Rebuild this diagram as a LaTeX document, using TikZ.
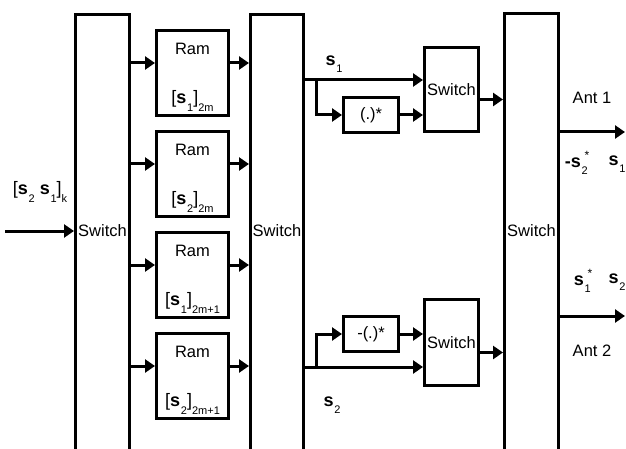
\documentclass[tikz,border=0pt]{standalone}
\usepackage{fontspec}
\setmainfont{Liberation Sans}
\usetikzlibrary{arrows.meta}
\tikzset{
  blk/.style={draw, rectangle, line width=3pt, inner sep=0pt, anchor=north west},
  arr/.style={line width=3pt, -{Triangle[length=10pt,width=13pt]}},
  lbl/.style={inner sep=0pt, font=\fontsize{16.5}{18}\selectfont},
  sym/.style={inner sep=0pt, font=\fontsize{18}{20}\selectfont},
}
\newcommand{\ix}[1]{\raisebox{-0.75ex}{\fontsize{11}{12}\selectfont #1}}
\newcommand{\bs}[1]{\textbf{s}\kern0.8pt\ix{#1}}
\newcommand{\bsc}[1]{\textbf{s}\kern0.8pt\rlap{\ix{#1}}\hspace{3pt}\raisebox{0.8ex}{\fontsize{12}{12}\selectfont *}}
\begin{document}
\begin{tikzpicture}[x=1pt,y=-1pt]
  \useasboundingbox (0,0) rectangle (626,449);
  % tall switches
  \node[blk, minimum width=54pt, minimum height=445pt] (sw1) at (74,13) {};
  \node[blk, minimum width=53pt, minimum height=445pt] (sw2) at (249,13) {};
  \node[blk, minimum width=54pt, minimum height=445pt] (sw4) at (503,12) {};
  \coordinate (lvl) at (0,231);
  \node[lbl] at (sw1 |- lvl) {Switch};
  \node[lbl] at (sw2 |- lvl) {Switch};
  \node[lbl] at (sw4 |- lvl) {Switch};
  % input
  \node[sym] (inlab) at (40,192) {[\bs{2} \bs{1}]\ix{k}};
  \coordinate (src) at (5,231);
  \draw[arr] (src) -- (src -| sw1.west);
  % rams
  \foreach \i/\t in {1/29,2/130,3/231,4/332}{
    \node[blk, minimum width=72pt, minimum height=85pt] (ram\i) at (155,\t) {};
    \node[lbl] at ([yshift=-20pt]ram\i.north) {Ram};
    \coordinate (p\i) at ([yshift=-34pt]ram\i.north west);
    \draw[arr] (sw1.east |- p\i) -- (p\i);
    \draw[arr] (p\i -| ram\i.east) -- (p\i -| sw2.west);
  }
  \node[sym] at ([yshift=-72pt]ram1.north) {[\bs{1}]\ix{2m}};
  \node[sym] at ([yshift=-72pt]ram2.north) {[\bs{2}]\ix{2m}};
  \node[sym] at ([yshift=-72pt]ram3.north) {[\bs{1}]\ix{2m+1}};
  \node[sym] at ([yshift=-72pt]ram4.north) {[\bs{2}]\ix{2m+1}};
  % conjugates and small switches
  \node[blk, lbl, minimum width=55pt, minimum height=35pt] (cj1) at (342,96) {(.)*};
  \node[blk, lbl, minimum width=55pt, minimum height=35pt] (cj2) at (342,315) {-(.)*};
  \node[blk, lbl, minimum width=54pt, minimum height=84pt] (sw3a) at (423,46) {Switch};
  \node[blk, lbl, minimum width=54pt, minimum height=86pt] (sw3b) at (423,298) {Switch};
  \coordinate (up) at (316,80);
  \coordinate (dn) at (316,367);
  \draw[arr] (sw2.east |- up) -- (sw3a.west |- up);
  \draw[arr] (up) |- (cj1.west);
  \draw[arr] (cj1.east) -- (sw3a.west |- cj1.east);
  \draw[arr] (sw2.east |- dn) -- (sw3b.west |- dn);
  \draw[arr] (dn) |- (cj2.west);
  \draw[arr] (cj2.east) -- (sw3b.west |- cj2.east);
  \coordinate (o1) at ([yshift=-10pt]sw3a.east);
  \coordinate (o2) at ([yshift=-10pt]sw3b.east);
  \draw[arr] (o1) -- (o1 -| sw4.west);
  \draw[arr] (o2) -- (o2 -| sw4.west);
  % antennas
  \coordinate (a1) at (625,132);
  \coordinate (a2) at (625,316);
  \draw[arr] (a1 -| sw4.east) -- (a1);
  \draw[arr] (a2 -| sw4.east) -- (a2);
  % labels
  \node[sym] (s1lab) at (334,64) {\bs{1}};
  \node[sym] (s2lab) at (332,405) {\bs{2}};
  \node[lbl] (ant1) at (592,98) {Ant 1};
  \node[sym] (o1a) at (577,163) {\textbf{-}\bsc{2}};
  \node[sym] (o1b) at (617,164) {\bs{1}};
  \node[sym] (o2a) at (583,281) {\bsc{1}};
  \node[sym] (o2b) at (617,282) {\bs{2}};
  \node[lbl] (ant2) at (592,351) {Ant 2};
\end{tikzpicture}
\end{document}
